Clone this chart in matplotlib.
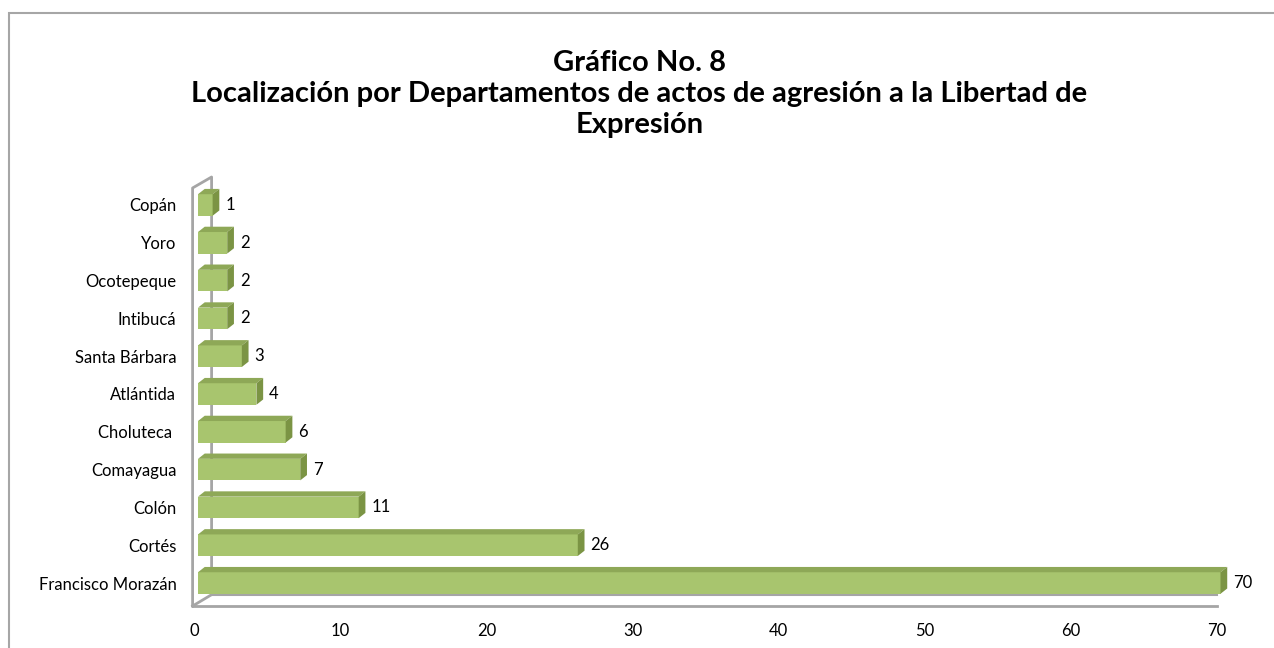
import matplotlib.pyplot as plt
from matplotlib.patches import Polygon, Rectangle

departamentos = ["Francisco Morazán", "Cortés", "Colón", "Comayagua", "Choluteca ",
                 "Atlántida", "Santa Bárbara", "Intibucá", "Ocotepeque", "Yoro", "Copán"]
casos = [70, 26, 11, 7, 6, 4, 3, 2, 2, 2, 1]
xticks = [0, 10, 20, 30, 40, 50, 60, 70]

titulo = "Gráfico No. 8\nLocalización por Departamentos de actos de agresión a la Libertad de\nExpresión"

plt.rcParams['font.family'] = ['Lato', 'DejaVu Sans']

fig = plt.figure(figsize=(12.74, 6.48), dpi=100)
fig.patches.append(Rectangle((9 / 1274, -0.1), 1.2, 1.1 - 13 / 648, transform=fig.transFigure,
                             fill=False, edgecolor='#a6a6a6', linewidth=1.5))

ax = fig.add_axes([194.5 / 1274, 42 / 648, 1022.5 / 1274, 429 / 648])
ax.set_xlim(0, 70)
ax.set_ylim(-0.608, 10.74)
for s in ax.spines.values():
    s.set_visible(False)

# 3d wall and floor
wall = '#a5a5a5'
wx0, wdx, wdy = -0.13, 1.3, 0.3
ax.plot([wx0, wx0, wx0 + wdx, wx0 + wdx, wx0], [-0.608, 10.45, 10.74, -0.308, -0.608],
        color=wall, lw=2, zorder=1, clip_on=False, solid_joinstyle='round')
ax.plot([wx0, 70], [-0.608, -0.608], color=wall, lw=2, zorder=1, clip_on=False)
ax.plot([wx0 + wdx, 70], [-0.308, -0.308], color=wall, lw=1.5, zorder=1, clip_on=False)

# 3d bars
x0, dx, dy, h = 0.24, 0.46, 0.14, 0.285
front, top, side = '#a8c56e', '#8ea857', '#7b9444'
for i, v in enumerate(casos):
    ax.add_patch(Rectangle((x0, i - h), v, 2 * h, facecolor=front, edgecolor='none',
                           zorder=3, clip_on=False))
    ax.add_patch(Polygon([(x0, i + h), (x0 + v, i + h), (x0 + v + dx, i + h + dy),
                          (x0 + dx, i + h + dy)], facecolor=top, edgecolor='none',
                         zorder=3, clip_on=False))
    ax.add_patch(Polygon([(x0 + v, i - h), (x0 + v + dx, i - h + dy), (x0 + v + dx, i + h + dy),
                          (x0 + v, i + h)], facecolor=side, edgecolor='none',
                         zorder=3, clip_on=False))
    ax.text(x0 + v + dx + 0.4, i, str(v), ha='left', va='center', fontsize=12, color='black')

ax.set_yticks(range(len(departamentos)))
ax.set_yticklabels(departamentos, fontsize=12)
ax.set_xticks(xticks)
ax.set_xticklabels([str(t) for t in xticks], fontsize=12)
ax.tick_params(axis='y', length=0, pad=13)
ax.tick_params(axis='x', length=0, pad=12)

fig.text(0.502, 1 - 94 / 648, titulo, ha='center', va='center', fontsize=21,
         fontweight='bold', linespacing=1.22)

fig.savefig("out.png", dpi=100)
